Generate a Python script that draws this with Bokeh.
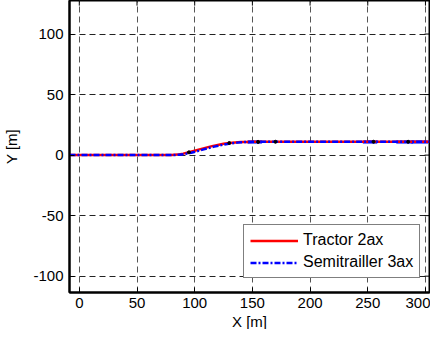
from bokeh.plotting import figure
from bokeh.models import Range1d, FixedTicker, Legend, LegendItem, Title
from bokeh.embed import file_html
from bokeh.resources import INLINE

# Trajectory data
tractor_x = [-8.5, 80, 85, 90, 95, 100, 105, 110, 115, 120, 125, 130, 135, 140, 145, 150, 200, 250, 303.5]
tractor_y = [0, 0, 0.4, 1.2, 2.3, 3.6, 4.9, 6.2, 7.4, 8.4, 9.3, 10.0, 10.5, 10.8, 10.9, 11.0, 11.0, 11.0, 11.0]

trailer_x = [-8.5, 82, 87, 92, 97, 102, 107, 112, 117, 122, 127, 132, 137, 142, 147, 152, 200, 250, 303.5]
trailer_y = [0, 0, 0.3, 1.0, 2.0, 3.2, 4.5, 5.8, 7.0, 8.1, 9.0, 9.8, 10.3, 10.7, 10.9, 11.0, 11.0, 11.0, 11.0]

# Vehicle outline positions (centre x, centre y, length)
veh_x = [152, 252, 282, 295]
veh_y = [10.8, 10.8, 10.8, 10.8]
veh_len = [12, 12, 14, 14]

# Axle marker points
axle_x = [95, 130, 155, 170, 255, 285]
axle_y = [2.3, 10.0, 10.9, 11.0, 11.0, 11.0]

x_ticks = [0, 50, 100, 150, 200, 250, 300]
y_ticks = [-100, -50, 0, 50, 100]

X_LABEL = "X [m]"
Y_LABEL = "Y [m]"

X_MIN, X_MAX = -8.5, 303.5
Y_MIN, Y_MAX = -113.5, 127.7

FONT = "Liberation Sans"
W, H = 430, 329

p = figure(width=W, height=H, output_backend="svg", toolbar_location=None,
           x_range=Range1d(X_MIN, X_MAX), y_range=Range1d(Y_MIN, Y_MAX),
           min_border_top=0, min_border_right=1, min_border_left=0, min_border_bottom=0,
           y_axis_label=Y_LABEL)

p.background_fill_color = "white"
p.border_fill_color = "white"
p.outline_line_color = "black"
p.outline_line_width = 2

for ax in [p.xaxis[0], p.yaxis[0]]:
    ax.major_tick_in = 5
    ax.major_tick_out = 0
    ax.minor_tick_in = 0
    ax.minor_tick_out = 0
    ax.axis_line_color = "black"
    ax.axis_line_width = 2
    ax.major_tick_line_color = "black"
    ax.major_label_text_font = FONT
    ax.major_label_text_font_size = "15px"
    ax.major_label_text_color = "black"
    ax.axis_label_text_font = FONT
    ax.axis_label_text_font_size = "15px"
    ax.axis_label_text_font_style = "normal"
    ax.axis_label_text_color = "black"

p.xaxis.ticker = FixedTicker(ticks=x_ticks)
p.yaxis.ticker = FixedTicker(ticks=y_ticks)
p.yaxis.major_label_overrides = {t: str(t) for t in y_ticks}
p.xaxis.major_label_standoff = 5
p.yaxis.major_label_standoff = 6
p.yaxis.axis_label_standoff = 10

# X axis title as a panel below the axis
xt = Title(text=X_LABEL, align="center", standoff=0, offset=0,
           text_font=FONT, text_font_size="15px", text_font_style="normal",
           text_color="black")
p.add_layout(xt, "below")

p.xgrid.ticker = FixedTicker(ticks=x_ticks)
p.ygrid.ticker = FixedTicker(ticks=y_ticks)
p.xgrid.grid_line_color = "#555555"
p.ygrid.grid_line_color = "#222222"
for g in [p.xgrid[0], p.ygrid[0]]:
    g.grid_line_dash = "6 4"
    g.grid_line_width = 1

# mirrored inward ticks on top and right edges (box style)
frame_w = 368.0
frame_h = 285.0
tick_dx = 5 * (X_MAX - X_MIN) / frame_w
tick_dy = 5 * (Y_MAX - Y_MIN) / frame_h
p.segment(x0=x_ticks, y0=[Y_MAX] * len(x_ticks), x1=x_ticks, y1=[Y_MAX - tick_dy] * len(x_ticks),
          line_color="black", line_width=1)
p.segment(x0=[X_MAX] * len(y_ticks), y0=y_ticks, x1=[X_MAX - tick_dx] * len(y_ticks), y1=y_ticks,
          line_color="black", line_width=1)

# vehicle outlines
p.rect(x=veh_x, y=veh_y, width=veh_len, height=2.5, fill_color="blue", fill_alpha=0.25,
       line_color="blue", line_alpha=0.5, line_width=1)

r1 = p.line(tractor_x, tractor_y, line_color="red", line_width=2.5)
r2 = p.line(trailer_x, trailer_y, line_color="blue", line_width=2.5, line_dash="6 2 2 2")
p.scatter(axle_x, axle_y, size=3, color="black")

legend = Legend(items=[LegendItem(label="Tractor 2ax", renderers=[r1]),
                       LegendItem(label="Semitrailler 3ax", renderers=[r2])],
                location=(174, 14))
legend.label_text_font = FONT
legend.label_text_font_size = "16px"
legend.label_text_color = "black"
legend.glyph_width = 48
legend.glyph_height = 17
legend.label_height = 17
legend.label_standoff = 5
legend.spacing = 4
legend.padding = 6
legend.margin = 0
legend.border_line_color = "black"
legend.border_line_width = 1.5
legend.background_fill_color = "white"
legend.background_fill_alpha = 1
p.add_layout(legend, "center")

open("out.html", "w").write(file_html(p, INLINE))
